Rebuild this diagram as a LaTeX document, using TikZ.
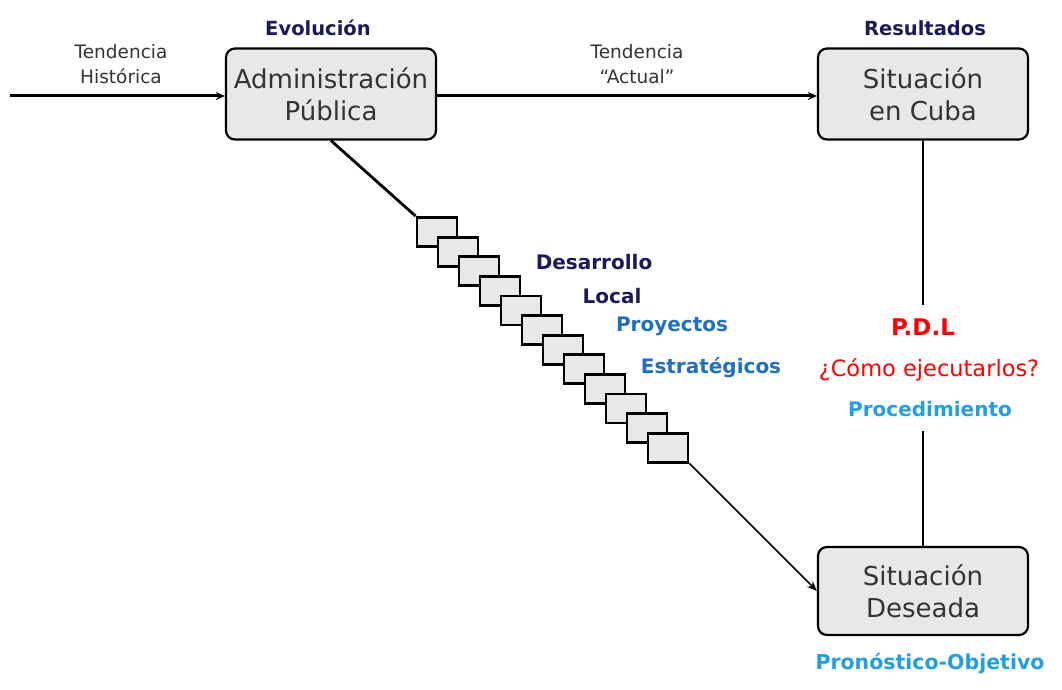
\documentclass[tikz,border=0pt]{standalone}
\usepackage{fontspec}
\setmainfont{DejaVu Sans}
\usetikzlibrary{arrows.meta}
\definecolor{boxgray}{HTML}{E8E8E8}
\definecolor{navy}{HTML}{1A1A5A}
\definecolor{txtgray}{HTML}{333333}
\definecolor{midblue}{HTML}{1F70C1}
\definecolor{skyblue}{HTML}{1F9FE8}
\definecolor{pdlred}{HTML}{FF0000}
\tikzset{
  mainbox/.style={draw=black, line width=2.2pt, fill=boxgray, rounded corners=9pt,
    minimum width=210pt, minimum height=91pt, inner sep=0pt, align=center,
    text=txtgray, font=\fontsize{26}{32}\selectfont},
  stepsq/.style={draw=black, line width=2.8pt, fill=boxgray, minimum width=40pt,
    minimum height=29pt, inner sep=0pt},
  headlbl/.style={font=\bfseries\fontsize{19.5}{22}\selectfont, text=navy, inner sep=0pt},
  trendlbl/.style={font=\fontsize{18.5}{25}\selectfont, text=txtgray, align=center, inner sep=0pt},
  diaglbl/.style={font=\bfseries\fontsize{20}{22}\selectfont, inner sep=0pt},
  sidelbl/.style={fill=white, inner xsep=4pt, inner ysep=14pt},
  conn/.style={line width=3pt, -{Stealth[length=9pt,width=8pt]}},
}
\begin{document}
\begin{tikzpicture}[x=1pt,y=-1pt]
\useasboundingbox[fill=white] (0,0) rectangle (1062,690);
% main boxes
\node[mainbox] (ap) at (331,94) {Administración\\Pública};
\node[mainbox] (cuba) at (923,94) {Situación\\en Cuba};
\node[mainbox, minimum height=88pt] (des) at (923,591) {Situación\\Deseada};
% headings
\node[headlbl] (evo) at (318,28) {Evolución};
\node[headlbl] (res) at (925,28) {Resultados};
\node[trendlbl] (th) at (121,64) {Tendencia\\Histórica};
\node[trendlbl] (ta) at (637,64) {Tendencia\\“Actual”};
% horizontal connectors
\coordinate (start) at (10,96);
\draw[conn] (start) -- (ap.west |- start);
\draw[conn] (ap.east |- start) -- (cuba.west |- start);
% vertical line
\draw[line width=2.8pt] (cuba.south) -- (des.north);
% step squares
\foreach \i in {1,...,12} {
  \node[stepsq] (s\i) at ({437+21*(\i-1)},{232+19.6*(\i-1)}) {};
}
\draw[line width=2.8pt] (ap.south) -- (s1.north west);
\draw[line width=1.6pt, -{Stealth[length=10pt,width=8pt]}] (s12.south east) -- (des.west);
% diagonal labels
\node[diaglbl, text=navy] (dl1) at (594,262) {Desarrollo};
\node[diaglbl, text=navy] (dl2) at (612,296) {Local};
\node[diaglbl, text=midblue] (pr1) at (672,326) {Proyectos};
\node[diaglbl, text=midblue] (pr2) at (711,368) {Estratégicos};
% side labels
\node[sidelbl, font=\bfseries\fontsize{23}{26}\selectfont, text=pdlred] (pdl) at (923,327) {P.D.L};
\node[sidelbl, font=\fontsize{22.5}{26}\selectfont, text=pdlred] (como) at (929,370) {¿Cómo ejecutarlos?};
\node[sidelbl, font=\bfseries\fontsize{20}{24}\selectfont, text=skyblue] (proc) at (930,409) {Procedimiento};
\node[font=\bfseries\fontsize{20.5}{24}\selectfont, text=skyblue, inner sep=0pt] (pron) at (930,664) {Pronóstico-Objetivo};
\end{tikzpicture}
\end{document}
